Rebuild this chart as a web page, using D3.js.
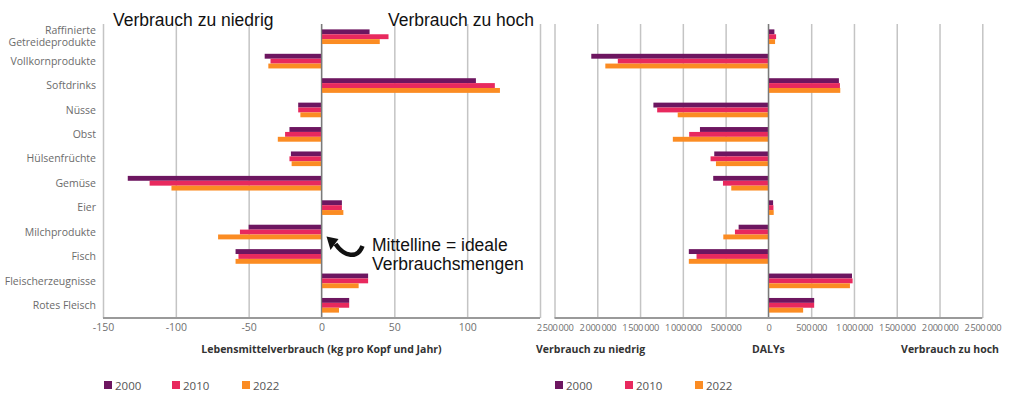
<!DOCTYPE html>
<html>
<head>
<meta charset="utf-8">
<script src="https://cdn.jsdelivr.net/npm/d3@7"></script>
<style>
  body { margin: 0; background: #fff; }
  svg { display: block; }
  .cat { font-family: "Open Sans", sans-serif; font-size: 10.5px; fill: #6b6b6b; }
  .tick text { font-family: "Open Sans", sans-serif; fill: #707070; }
  .axtitle { font-family: "Open Sans", sans-serif; font-size: 10.5px; font-weight: bold; fill: #333; }
  .big { font-family: "Liberation Sans", Arial, sans-serif; font-size: 17.5px; fill: #111; }
  .leg { font-family: "Open Sans", sans-serif; font-size: 11.5px; fill: #555; }
</style>
</head>
<body>
<div class="chart"></div>
<script>
// Kategorien (von oben nach unten)
const categories = ['Raffinierte Getreideprodukte', 'Vollkornprodukte', 'Softdrinks', 'Nüsse', 'Obst',
  'Hülsenfrüchte', 'Gemüse', 'Eier', 'Milchprodukte', 'Fisch', 'Fleischerzeugnisse', 'Rotes Fleisch']
const years = ['2000', '2010', '2022']

// Abweichung vom idealen Verbrauch (kg pro Kopf und Jahr)
const kg2000 = [33, -39, 106, -16, -22, -21, -133, 14, -50, -59, 32, 19]
const kg2010 = [46, -35, 119, -16, -25, -22, -118, 14, -56, -57, 32, 19]
const kg2022 = [40, -36.5, 122.5, -14.5, -30, -20.5, -103, 15, -71, -59, 25.5, 12]

// DALYs
const daly2000 = [70000, -2070000, 824000, -1344000, -800000, -633000, -645000, 55000, -348000, -930000, 977000, 535000]
const daly2010 = [90000, -1760000, 836000, -1300000, -926000, -676000, -531000, 59000, -391000, -840000, 984000, 535000]
const daly2022 = [78000, -1906000, 840000, -1060000, -1117000, -613000, -434000, 62000, -527000, -930000, 953000, 406000]

// Achsenbeschriftungen
const kgGrid = [-150, -100, -50, 0, 50, 100, 150]
const kgLabels = [-150, -100, -50, 0, 50, 100]
const dalyTicks = [-2500000, -2000000, -1500000, -1000000, -500000, 0, 500000, 1000000, 1500000, 2000000, 2500000]

const colors = ['#6d1660', '#e8295e', '#fb8c23']

const width = 1024, height = 396
const plotTop = 24, plotBottom = 318

const svg = d3.select('.chart')
  .append('svg')
  .attr('width', width)
  .attr('height', height)

const y = d3.scaleBand()
  .domain(categories)
  .range([24.5, 317.5])
  .paddingInner(0.4)
  .paddingOuter(0.2)

const ySub = d3.scaleBand()
  .domain(years)
  .range([0, y.bandwidth()])

function drawPanel(x, series, gridValues, labelValues, fmt, fontSize) {
  const g = svg.append('g')

  // Gitternetz
  g.append('g')
    .attr('transform', `translate(0,${plotBottom})`)
    .call(d3.axisBottom(x).tickValues(gridValues).tickSize(-(plotBottom - plotTop)).tickFormat(''))
    .call(a => a.select('.domain').remove())
    .call(a => a.selectAll('.tick line').attr('stroke', '#c4c4c4').attr('stroke-width', 1.5))

  // Balken
  series.forEach((vals, k) => {
    g.selectAll(null)
      .data(vals)
      .enter()
      .append('rect')
      .attr('x', d => x(Math.min(0, d)))
      .attr('width', d => Math.abs(x(d) - x(0)))
      .attr('y', (d, i) => y(categories[i]) + ySub(years[k]))
      .attr('height', ySub.bandwidth())
      .attr('fill', colors[k])
  })

  // Nulllinie
  g.append('line')
    .attr('x1', x(0)).attr('x2', x(0))
    .attr('y1', plotTop).attr('y2', plotBottom)
    .attr('stroke', '#7a7a7a')
    .attr('stroke-width', 1.3)

  // x-Achse
  const ax = g.append('g')
    .attr('transform', `translate(0,${plotBottom})`)
    .call(d3.axisBottom(x).tickValues(labelValues).tickSize(0).tickPadding(6).tickFormat(fmt))
  ax.select('.domain').remove()
  ax.selectAll('.tick text').style('font-size', fontSize)

  g.append('line')
    .attr('x1', x.range()[0]).attr('x2', x.range()[1])
    .attr('y1', plotBottom).attr('y2', plotBottom)
    .attr('stroke', '#9a9a9a')
    .attr('stroke-width', 2)

  return g
}

// linkes Diagramm: Lebensmittelverbrauch
const xL = d3.scaleLinear().domain([-150, 150]).range([103, 540])
drawPanel(xL, [kg2000, kg2010, kg2022], kgGrid, kgLabels, d => String(d), '10.5px')

// rechtes Diagramm: DALYs
const xR = d3.scaleLinear().domain([-2500000, 2500000]).range([554.5, 982.3])
const dalyFormat = d => d3.format(',')(Math.abs(d)).replace(/,/g, '\u2009')
const right = drawPanel(xR, [daly2000, daly2010, daly2022], dalyTicks, dalyTicks, dalyFormat, '9.3px')
right.selectAll('.tick text').style('letter-spacing', '-0.4px')

// Kategorienbeschriftung
svg.append('g')
  .selectAll('text')
  .data(categories)
  .enter()
  .append('text')
  .attr('class', 'cat')
  .attr('text-anchor', 'end')
  .attr('x', 96)
  .attr('y', d => y(d) + y.bandwidth() / 2)
  .each(function (d) {
    const t = d3.select(this)
    if (d === 'Raffinierte Getreideprodukte') {
      t.append('tspan').attr('x', 96).attr('dy', '-0.25em').text('Raffinierte')
      t.append('tspan').attr('x', 96).attr('dy', '1.17em').text('Getreideprodukte')
    } else {
      t.attr('dy', '0.35em').text(d)
    }
  })

// Achsentitel
svg.append('text').attr('class', 'axtitle')
  .attr('x', xL(0)).attr('y', 353).attr('text-anchor', 'middle')
  .text('Lebensmittelverbrauch (kg pro Kopf und Jahr)')
svg.append('text').attr('class', 'axtitle')
  .attr('x', 536).attr('y', 353)
  .text('Verbrauch zu niedrig')
svg.append('text').attr('class', 'axtitle')
  .attr('x', xR(0)).attr('y', 353).attr('text-anchor', 'middle')
  .text('DALYs')
svg.append('text').attr('class', 'axtitle')
  .attr('x', 999).attr('y', 353).attr('text-anchor', 'end')
  .text('Verbrauch zu hoch')

// Überschriften im linken Diagramm
svg.append('text').attr('class', 'big').attr('x', 113).attr('y', 26).text('Verbrauch zu niedrig')
svg.append('text').attr('class', 'big').attr('x', 388).attr('y', 26).text('Verbrauch zu hoch')

// Hinweis zur Mittellinie
svg.append('text').attr('class', 'big').attr('x', 372).attr('y', 251).text('Mittelline = ideale')
svg.append('text').attr('class', 'big').attr('x', 372).attr('y', 270).text('Verbrauchsmengen')

const ax0 = xL(0)
svg.append('path')
  .attr('d', `M${ax0 + 41},${246} C${ax0 + 36},${259} ${ax0 + 23},${257} ${ax0 + 14},${244}`)
  .attr('fill', 'none')
  .attr('stroke', '#111')
  .attr('stroke-width', 4.5)
svg.append('path')
  .attr('d', `M${ax0 + 5},${236.5} L${ax0 + 17},${239} L${ax0 + 9},${250} Z`)
  .attr('fill', '#111')

// Legenden
function legend(x0, offsets) {
  years.forEach((yr, k) => {
    svg.append('rect')
      .attr('x', x0 + offsets[k]).attr('y', 381)
      .attr('width', 8).attr('height', 8)
      .attr('fill', colors[k])
    svg.append('text').attr('class', 'leg')
      .attr('x', x0 + offsets[k] + 11).attr('y', 389.5)
      .text(yr)
  })
}
legend(104, [0, 68, 138])
legend(555, [0, 70, 140])
</script>
</body>
</html>
